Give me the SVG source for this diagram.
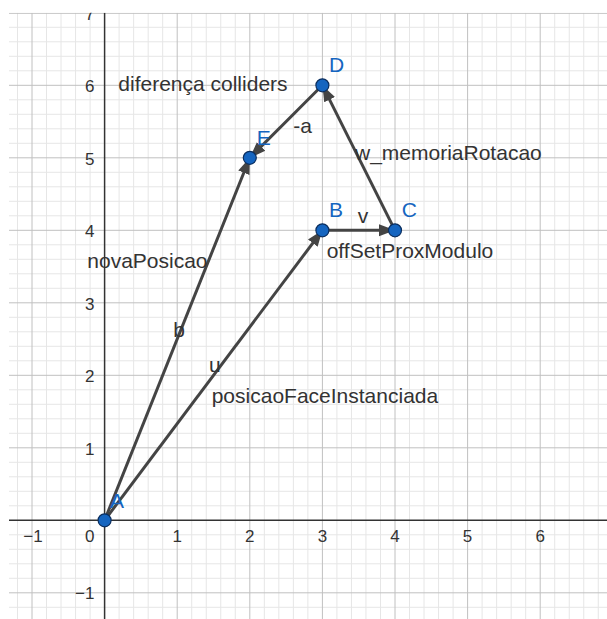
<svg xmlns="http://www.w3.org/2000/svg" width="607" height="619" viewBox="0 0 607 619">
<style>
.minor{stroke:#e6e6e6;stroke-width:1;fill:none}
.major{stroke:#c0c0c0;stroke-width:1;fill:none}
.axis{stroke:#333;stroke-width:1.5;fill:none}
.num{font-family:"Liberation Sans",Arial,sans-serif;font-size:17px;fill:#333}
.lbl{font-family:"Liberation Sans",Arial,sans-serif;font-size:21px;fill:#333}
.plbl{font-family:"Liberation Sans",Arial,sans-serif;font-size:21px;fill:#1565c0}
.vec{stroke:#444;stroke-width:3;fill:none;marker-end:url(#arrow)}
.pt{fill:#1565c0;stroke:#0b2e5e;stroke-width:1.2}
</style>
<defs>
<marker id="arrow" markerUnits="userSpaceOnUse" markerWidth="20" markerHeight="16" viewBox="0 -8 20 16" refX="16" refY="0" orient="auto">
<path d="M0,-6 L16,0 L0,6 Z" fill="#444"/>
</marker>
<clipPath id="area"><rect x="9" y="12.8" width="598" height="606.2"/></clipPath>
</defs>
<rect x="0" y="0" width="607" height="619" fill="#fff"/>
<g id="grid" clip-path="url(#area)">
<path class="minor" d="M17.48,12.8V619M46.52,12.8V619M61.04,12.8V619M75.56,12.8V619M90.08,12.8V619M119.12,12.8V619M133.64,12.8V619M148.16,12.8V619M162.68,12.8V619M191.72,12.8V619M206.24,12.8V619M220.76,12.8V619M235.28,12.8V619M264.32,12.8V619M278.84,12.8V619M293.36,12.8V619M307.88,12.8V619M336.92,12.8V619M351.44,12.8V619M365.96,12.8V619M380.48,12.8V619M409.52,12.8V619M424.04,12.8V619M438.56,12.8V619M453.08,12.8V619M482.12,12.8V619M496.64,12.8V619M511.16,12.8V619M525.68,12.8V619M554.72,12.8V619M569.24,12.8V619M583.76,12.8V619M598.28,12.8V619
M9,607.3H607M9,578.3H607M9,563.8H607M9,549.3H607M9,534.8H607M9,505.8H607M9,491.3H607M9,476.8H607M9,462.3H607M9,433.3H607M9,418.8H607M9,404.3H607M9,389.8H607M9,360.8H607M9,346.3H607M9,331.8H607M9,317.3H607M9,288.3H607M9,273.8H607M9,259.3H607M9,244.8H607M9,215.8H607M9,201.3H607M9,186.8H607M9,172.3H607M9,143.3H607M9,128.8H607M9,114.3H607M9,99.8H607M9,70.8H607M9,56.3H607M9,41.8H607M9,27.3H607"/>
<path class="major" d="M32,12.8V619M177.2,12.8V619M249.8,12.8V619M322.4,12.8V619M395,12.8V619M467.6,12.8V619M540.2,12.8V619
M9,592.8H607M9,447.8H607M9,375.3H607M9,302.8H607M9,230.3H607M9,157.8H607M9,85.3H607M9,13.3H607"/>
<path class="axis" d="M104.6,12.8V619M9,520.3H607"/>
<g class="num">
<text x="94.5" y="19.8" text-anchor="end">7</text>
<text x="94.5" y="92.3" text-anchor="end">6</text>
<text x="94.5" y="164.8" text-anchor="end">5</text>
<text x="94.5" y="237.3" text-anchor="end">4</text>
<text x="94.5" y="309.8" text-anchor="end">3</text>
<text x="94.5" y="382.3" text-anchor="end">2</text>
<text x="94.5" y="454.8" text-anchor="end">1</text>
<text x="94.5" y="599.3" text-anchor="end">−1</text>
<text x="94.5" y="541.5" text-anchor="end">0</text>
<text x="33" y="541.5" text-anchor="middle">−1</text>
<text x="177.2" y="541.5" text-anchor="middle">1</text>
<text x="249.8" y="541.5" text-anchor="middle">2</text>
<text x="322.4" y="541.5" text-anchor="middle">3</text>
<text x="395" y="541.5" text-anchor="middle">4</text>
<text x="467.6" y="541.5" text-anchor="middle">5</text>
<text x="540.2" y="541.5" text-anchor="middle">6</text>
</g>
</g>
<g id="connectors">
<line id="vec-u" class="vec" x1="104.6" y1="520.3" x2="322.4" y2="230.3"/>
<line id="vec-b" class="vec" x1="104.6" y1="520.3" x2="249.8" y2="157.8"/>
<line id="vec-v" class="vec" x1="322.4" y1="230.3" x2="395" y2="230.3"/>
<line id="vec-w" class="vec" x1="395" y1="230.3" x2="322.4" y2="85.3"/>
<line id="vec-a" class="vec" x1="322.4" y1="85.3" x2="249.8" y2="157.8"/>
</g>
<g id="vector-labels" class="lbl">
<text x="118.3" y="90.7">diferença colliders</text>
<text x="293.3" y="133.3">-a</text>
<text x="355" y="160">w_memoriaRotacao</text>
<text x="357.7" y="223.3">v</text>
<text x="326.7" y="258">offSetProxModulo</text>
<text x="87.3" y="268.3">novaPosicao</text>
<text x="173.3" y="336.7">b</text>
<text x="209" y="371.7">u</text>
<text x="211.7" y="403">posicaoFaceInstanciada</text>
</g>
<g id="node-A"><circle class="pt" cx="104.6" cy="520.3" r="6.5"/><text class="plbl" x="110" y="508">A</text></g>
<g id="node-B"><circle class="pt" cx="322.4" cy="230.3" r="6.5"/><text class="plbl" x="329" y="216.7">B</text></g>
<g id="node-C"><circle class="pt" cx="395" cy="230.3" r="6.5"/><text class="plbl" x="401.7" y="216.7">C</text></g>
<g id="node-D"><circle class="pt" cx="322.4" cy="85.3" r="6.5"/><text class="plbl" x="329" y="71.7">D</text></g>
<g id="node-E"><circle class="pt" cx="249.8" cy="157.8" r="6.5"/><text class="plbl" x="256.7" y="145">E</text></g>
</svg>
